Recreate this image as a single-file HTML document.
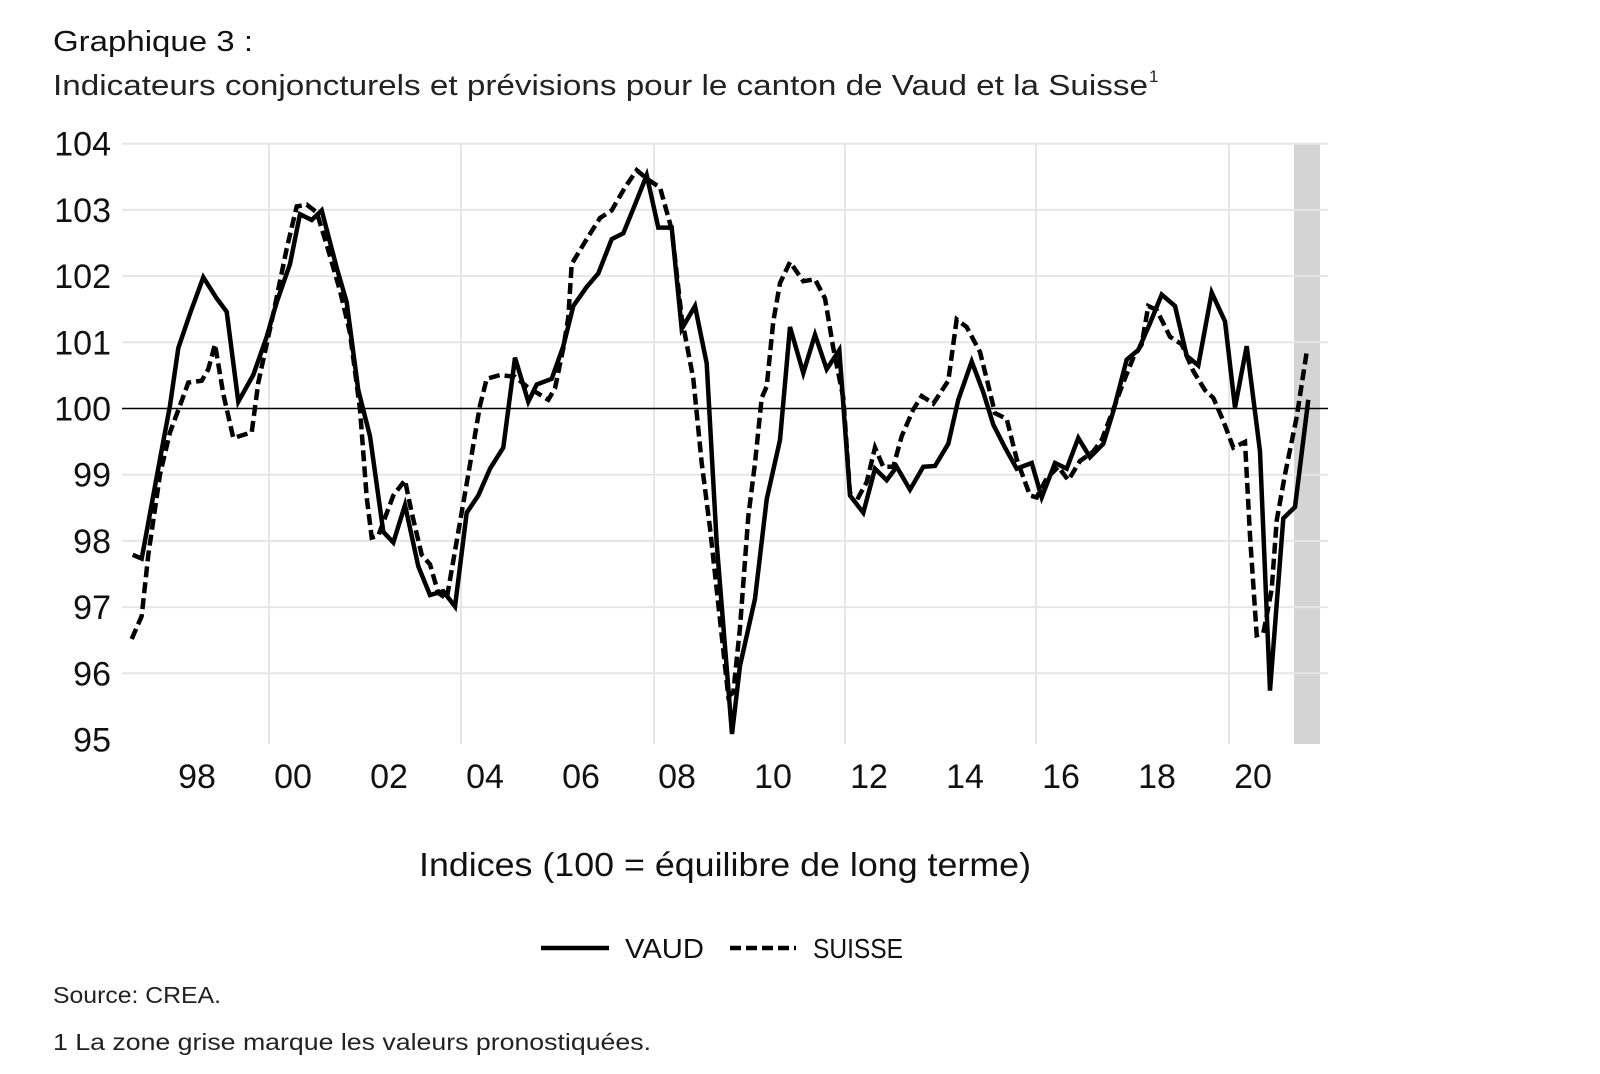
<!DOCTYPE html>
<html><head><meta charset="utf-8"><style>
html,body{margin:0;padding:0;background:#fff;}
svg{display:block;font-family:"Liberation Sans",sans-serif;}
</style></head><body>
<svg width="1600" height="1074" viewBox="0 0 1600 1074" xmlns="http://www.w3.org/2000/svg">
<rect x="0" y="0" width="1600" height="1074" fill="#fff"/>
<text x="53" y="51" font-size="29" fill="#111" textLength="200" lengthAdjust="spacingAndGlyphs">Graphique 3 :</text>
<text x="53" y="95" font-size="29" fill="#222" textLength="1095" lengthAdjust="spacingAndGlyphs">Indicateurs conjoncturels et prévisions pour le canton de Vaud et la Suisse</text>
<text x="1149" y="82" font-size="17" fill="#222">1</text>
<!-- forecast band -->
<rect x="1294" y="143" width="26" height="601" fill="#d4d4d4"/>
<!-- horizontal grid -->
<g stroke="#e6e6e6" stroke-width="2">
<line x1="122" y1="143.7" x2="1328" y2="143.7"/>
<line x1="122" y1="209.9" x2="1328" y2="209.9"/>
<line x1="122" y1="276.1" x2="1328" y2="276.1"/>
<line x1="122" y1="342.3" x2="1328" y2="342.3"/>
<line x1="122" y1="474.7" x2="1328" y2="474.7"/>
<line x1="122" y1="540.9" x2="1328" y2="540.9"/>
<line x1="122" y1="607.1" x2="1328" y2="607.1"/>
<line x1="122" y1="673.3" x2="1328" y2="673.3"/>
<line x1="269" y1="143" x2="269" y2="744"/>
<line x1="461" y1="143" x2="461" y2="744"/>
<line x1="654" y1="143" x2="654" y2="744"/>
<line x1="845" y1="143" x2="845" y2="744"/>
<line x1="1036" y1="143" x2="1036" y2="744"/>
<line x1="1229" y1="143" x2="1229" y2="744"/>
</g>
<line x1="122" y1="408.5" x2="1328" y2="408.5" stroke="#000" stroke-width="1.6"/>
<!-- y labels -->
<g font-size="34" fill="#111" text-anchor="end">
<text x="111" y="155.7">104</text>
<text x="111" y="221.9">103</text>
<text x="111" y="288.1">102</text>
<text x="111" y="354.3">101</text>
<text x="111" y="420.5">100</text>
<text x="111" y="486.7">99</text>
<text x="111" y="552.9">98</text>
<text x="111" y="619.1">97</text>
<text x="111" y="685.3">96</text>
<text x="111" y="751.5">95</text>
</g>
<g font-size="34" fill="#111" text-anchor="middle">
<text x="197" y="788">98</text>
<text x="293" y="788">00</text>
<text x="389" y="788">02</text>
<text x="485" y="788">04</text>
<text x="581" y="788">06</text>
<text x="677" y="788">08</text>
<text x="773" y="788">10</text>
<text x="869" y="788">12</text>
<text x="965" y="788">14</text>
<text x="1061" y="788">16</text>
<text x="1157" y="788">18</text>
<text x="1253" y="788">20</text>
</g>
<!-- Suisse -->
<polyline fill="none" stroke="#000" stroke-width="4.5" stroke-dasharray="11,5" stroke-linejoin="miter" points="131.7,639 141.7,616 148.3,554.8 160,474.4 170,432.3 180,405.5 188.3,382.6 201.7,380.7 208.3,369.2 215,344.3 223.3,394 233.3,438 251.7,432.3 258.3,382.6 273.3,313.7 286.7,248.6 296.7,206.5 306.7,204.6 316.7,212.3 326.7,244.8 340,290.7 350,333 360,409.4 366.7,497.4 371.7,537.6 378.3,535.7 393.3,495.5 405,480.2 411.7,512.7 421.7,554.8 430,564.4 438.3,593 446.7,598.8 458.3,531.8 468.3,474.4 480,405.5 486.7,378.8 500,375 515,376.8 526.7,386.4 548.3,399.8 555,388.3 563.3,348.1 568.3,317.5 571.7,264 586.7,239.1 600,218 611.7,210.4 625,187.4 636.7,170.2 648.3,179.8 660,187.4 671.7,229.5 681.7,317.5 693.3,378.8 701.7,463 710,528 720,619.9 728.3,696.4 733.3,692.6 740,627.5 748.3,516.5 755,463 761.7,397.9 766.7,386.4 773.3,321.4 780,283.1 790,262 803.3,281.2 815,279.3 825,298.4 833.3,348.1 843.3,397.9 850,493.6 858.3,497.4 866.7,482.1 875,447.6 883.3,466.8 893.3,466.8 901.7,436.2 913.3,409.4 921.7,396 933.3,403.6 948.3,380.7 956.7,319.4 966.7,327.1 980,352 986.7,378.8 995,413.2 1006.7,418.9 1016.7,459.1 1030,495.5 1036.7,497.4 1046.7,478.3 1058.3,466.8 1068.3,480.2 1080,461 1093.3,451.5 1101.7,440 1113.3,409.4 1123.3,382.6 1133.3,357.7 1141.7,344.3 1148.3,306 1156.7,309.9 1170,336.7 1181.7,344.3 1193.3,371.1 1205,390.2 1213.3,397.9 1223.3,420.9 1233.3,447.6 1245,441.9 1250,535.7 1256.7,635.2 1263.3,633.3 1271.7,589.2 1276.7,520.4 1285,474.4 1296.7,417 1306.7,352"/>
<!-- Vaud -->
<polyline fill="none" stroke="#000" stroke-width="4.5" stroke-linejoin="miter" points="132.7,554.8 141.7,558.6 160,459 170,405.5 178.3,348 190,313.7 203.3,277.3 216.7,298.4 226.7,311.8 238.3,401.7 253.3,374.9 266.7,336.7 276.7,302.2 290,264 300,214.2 311.7,220 321.7,210.4 336.7,267.8 346.7,302.2 358.3,390.2 370,436.2 383.3,531.8 393.3,542.5 405,505 418.3,566.3 430,595 443.3,591.2 455,606.5 466.7,512.7 478.3,495.5 490,468.7 503.3,447.6 515,357.7 528.3,401.7 536.7,384.5 551.7,378.8 563.3,346.2 573.3,306 586.7,286.9 598.3,273.5 611.7,239.1 623.3,233.3 635,204.6 646.7,175.2 658.3,227.6 671.7,227.6 681.7,329 695,306 706.7,363.4 716.7,543.3 732,734 740,665.8 755,598.8 766.7,499.3 780,440 790,327 803.3,373 815,334.7 826.7,369.2 839.3,350 850,495.5 863.3,512.7 875,468.7 886.7,480.2 896.7,466.8 910,489.7 923.3,466.8 935,466 948.3,443.8 958.3,399.8 971.7,361.5 983.3,392.2 993.3,424.7 1005,447.6 1016.7,468.7 1031.7,463 1041.7,497.4 1055,463 1066.7,468.7 1078.3,438 1090,457.2 1103.3,443.8 1113.3,411.3 1126.7,359.6 1138.3,350 1150,323.3 1161.7,294.6 1175,306 1186.7,355.8 1198.3,365.4 1211.7,292.6 1225,321.4 1235,407.5 1246.7,346.2 1260,451.5 1270,690.6 1283.3,518.4 1295,507 1308.3,399.8"/>
<text x="725" y="876" font-size="33" fill="#111" text-anchor="middle" textLength="612" lengthAdjust="spacingAndGlyphs">Indices (100 = équilibre de long terme)</text>
<line x1="541" y1="948" x2="609" y2="948" stroke="#000" stroke-width="4.5"/>
<text x="625" y="958" font-size="28" fill="#111" textLength="79" lengthAdjust="spacingAndGlyphs">VAUD</text>
<line x1="730" y1="948" x2="796" y2="948" stroke="#000" stroke-width="4.5" stroke-dasharray="11,5"/>
<text x="813" y="958" font-size="28" fill="#111" textLength="90" lengthAdjust="spacingAndGlyphs">SUISSE</text>
<text x="53" y="1003" font-size="23" fill="#222" textLength="168" lengthAdjust="spacingAndGlyphs">Source: CREA.</text>
<text x="53" y="1050" font-size="23" fill="#222" textLength="598" lengthAdjust="spacingAndGlyphs">1 La zone grise marque les valeurs pronostiquées.</text>
</svg>
</body></html>
